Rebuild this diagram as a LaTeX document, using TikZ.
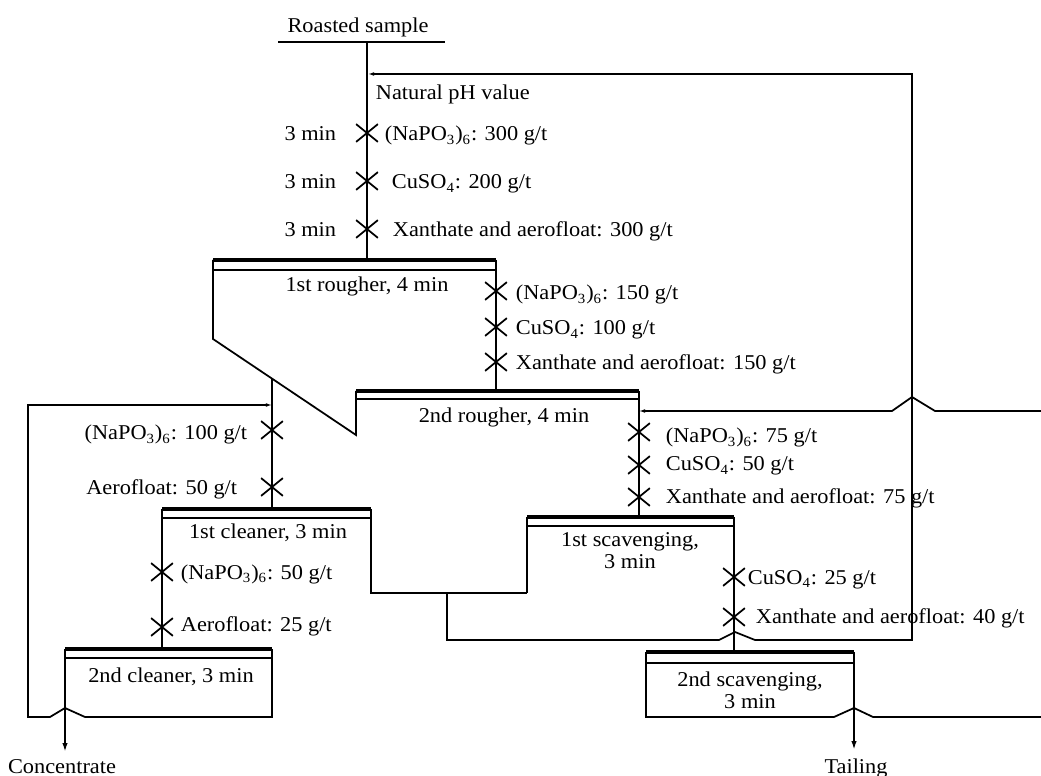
\documentclass[tikz,border=0pt]{standalone}
\usepackage{fontspec}
\setmainfont{Liberation Serif}[FakeStretch=1.06]
\usetikzlibrary{arrows.meta,shapes.misc}

\begin{document}
\begin{tikzpicture}[x=0.02cm,y=-0.02cm,line width=1pt,
    lbl/.style={inner sep=0pt,font=\fontsize{12}{12.5}\selectfont},
    xmark/.style={cross out,draw,inner sep=0pt,minimum width=0.4cm,minimum height=0.32cm,line width=1pt},
    froth/.style={line width=2.2pt},
    lip/.style={line width=0.8pt},
    recycle/.style={-{Latex[length=3.5pt,width=2.2pt]}},
    product/.style={-{Latex[length=5pt,width=3pt]}}]
  \useasboundingbox (0,0) rectangle (1041,776);
  % feed
  \node[lbl,anchor=base] (feed) at (358,33) {Roasted sample};
  \draw (278,42) -- (445,42);
  \coordinate (fd) at (367,42);
  \coordinate (r1in) at (367,260);
  \draw (fd) -- (r1in);
  \node[lbl,anchor=base west] (ph) at (375,100) {Natural pH value};
  \node[xmark] (x1) at (367,133) {};
  \node[xmark] (x2) at (367,181) {};
  \node[xmark] (x3) at (367,229) {};
  \node[lbl,anchor=base east] (t1) at (337,141) {3 min};
  \node[lbl,anchor=base east] (t2) at (337,189) {3 min};
  \node[lbl,anchor=base east] (t3) at (337,237) {3 min};
  \node[lbl,anchor=base west] (d1) at (384,141) {(NaPO\textsubscript{3})\textsubscript{6}: 300 g/t};
  \node[lbl,anchor=base west] (d2) at (391,189) {CuSO\textsubscript{4}: 200 g/t};
  \node[lbl,anchor=base west] (d3) at (392,237) {Xanthate and aerofloat: 300 g/t};
  % 1st rougher
  \draw[froth] (213,260) -- (496,260);
  \draw[lip] (213,270) -- (496,270);
  \draw (213,260) -- (213,339) -- (356,435) -- (356,391);
  \coordinate (r1t) at (496,391);
  \draw (496,260) -- (r1t);
  \node[lbl,anchor=base] (r1) at (367,292) {1st rougher, 4 min};
  \node[xmark] (x4) at (496,291) {};
  \node[xmark] (x5) at (496,327) {};
  \node[xmark] (x6) at (496,362) {};
  \node[lbl,anchor=base west] (d4) at (515,300) {(NaPO\textsubscript{3})\textsubscript{6}: 150 g/t};
  \node[lbl,anchor=base west] (d5) at (515,335) {CuSO\textsubscript{4}: 100 g/t};
  \node[lbl,anchor=base west] (d6) at (515,370) {Xanthate and aerofloat: 150 g/t};
  % 2nd rougher
  \draw[froth] (356,391) -- (639,391);
  \draw[lip] (356,399) -- (639,399);
  \coordinate (r2t) at (639,517);
  \draw (639,391) -- (r2t);
  \node[lbl,anchor=base] (r2) at (504,423) {2nd rougher, 4 min};
  \node[xmark] (x7) at (639,432) {};
  \node[xmark] (x8) at (639,465) {};
  \node[xmark] (x9) at (639,497) {};
  \node[lbl,anchor=base west] (d7) at (665,443) {(NaPO\textsubscript{3})\textsubscript{6}: 75 g/t};
  \node[lbl,anchor=base west] (d8) at (665,471) {CuSO\textsubscript{4}: 50 g/t};
  \node[lbl,anchor=base west] (d9) at (665,503) {Xanthate and aerofloat: 75 g/t};
  % 1st cleaner
  \coordinate (c1in) at (272,379);
  \coordinate (c1t) at (272,509);
  \draw (c1in) -- (c1t);
  \node[xmark] (x10) at (272,430) {};
  \node[xmark] (x11) at (272,487) {};
  \node[lbl,anchor=base east] (d10) at (248,440) {(NaPO\textsubscript{3})\textsubscript{6}: 100 g/t};
  \node[lbl,anchor=base east] (d11) at (238,495) {Aerofloat: 50 g/t};
  \draw[froth] (162,509) -- (371,509);
  \draw[lip] (162,518) -- (371,518);
  \draw (371,509) -- (371,593) -- (527,593);
  \node[lbl,anchor=base] (c1) at (268,539) {1st cleaner, 3 min};
  \coordinate (c2t) at (162,649);
  \draw (162,509) -- (c2t);
  \node[xmark] (x12) at (162,572) {};
  \node[xmark] (x13) at (162,627) {};
  \node[lbl,anchor=base west] (d12) at (180,579) {(NaPO\textsubscript{3})\textsubscript{6}: 50 g/t};
  \node[lbl,anchor=base west] (d13) at (180,631) {Aerofloat: 25 g/t};
  % 2nd cleaner
  \draw[froth] (65,649) -- (272,649);
  \draw[lip] (65,658) -- (272,658);
  \node[lbl,anchor=base] (c2) at (171,682) {2nd cleaner, 3 min};
  \coordinate (conc) at (65,708);
  \coordinate (c1ret) at (272,405);
  \draw (65,649) -- (conc);
  \draw[recycle] (272,649) -- (272,717) -- (85,717) -- (conc) -- (50,717) -- (28,717) -- (28,405) -- (c1ret);
  \node[lbl,anchor=base] (cn) at (62,773) {Concentrate};
  \draw[product] (conc) -- (65,752);
  % 1st scavenging
  \draw[froth] (527,517) -- (734,517);
  \draw[lip] (527,526) -- (734,526);
  \draw (527,517) -- (527,593);
  \coordinate (s2in) at (734,652);
  \draw (734,517) -- (s2in);
  \node[lbl,anchor=base,align=center] (s1) at (630,568) {1st scavenging,\\3 min};
  \node[xmark] (x14) at (734,577) {};
  \node[xmark] (x15) at (734,617) {};
  \node[lbl,anchor=base west] (d14) at (747,584) {CuSO\textsubscript{4}: 25 g/t};
  \node[lbl,anchor=base west] (d15) at (755,623) {Xanthate and aerofloat: 40 g/t};
  % 2nd scavenging
  \draw[froth] (646,652) -- (854,652);
  \draw[lip] (646,663) -- (854,663);
  \node[lbl,anchor=base,align=center] (s2) at (750,708) {2nd scavenging,\\3 min};
  \coordinate (tail) at (854,708);
  \draw (854,652) -- (tail);
  \draw (1041,717) -- (873,717) -- (tail) -- (834,717) -- (646,717) -- (646,652);
  \node[lbl,anchor=base] (tl) at (856,773) {Tailing};
  \draw[product] (tail) -- (854,750);
  % middlings back to feed
  \coordinate (mid) at (447,593);
  \coordinate (r1ret) at (368,74);
  \draw[recycle] (mid) -- (447,640) -- (719,640) -- (735,632) -- (755,640) -- (912,640) -- (912,74) -- (r1ret);
  % scavenger froth back to 2nd rougher
  \coordinate (r2ret) at (639,411);
  \draw[recycle] (1041,411) -- (935,411) -- (912,397) -- (892,411) -- (r2ret);
\end{tikzpicture}
\end{document}
